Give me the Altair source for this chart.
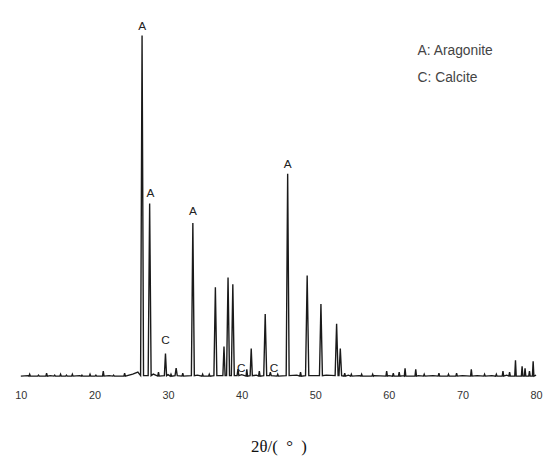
import altair as alt
import pandas as pd

# Main diffraction peaks: 2theta position, intensity (plot units), half width at base
peak_pos = [26.47, 27.5, 29.65, 31.1, 33.37, 36.43, 37.6, 38.15, 38.8, 39.5, 41.3, 43.2, 43.9,
            46.25, 48.9, 50.77, 52.9, 53.4]
peak_h = [346, 176, 24, 9, 156, 91, 31, 101, 94, 8, 29, 64, 5,
          206, 103, 74, 54, 29]
peak_hw = [0.2, 0.2, 0.15, 0.15, 0.2, 0.2, 0.15, 0.2, 0.2, 0.12, 0.15, 0.2, 0.12,
           0.2, 0.22, 0.2, 0.2, 0.18]

# Small bumps of the background
bump_pos = [11.2, 12.4, 13.5, 14.6, 15.4, 16.2, 17.0, 18.3, 19.4, 20.2, 21.2, 22.6, 24.1, 28.7,
            30.4, 32.0, 34.7, 35.6, 40.7, 42.4, 44.9, 48.0, 54.0, 54.9, 56.3, 57.8,
            59.7, 60.6, 61.4, 62.2, 63.65, 64.8, 66.8, 68.1, 69.2, 71.2, 73.0, 74.6, 75.5,
            76.4, 77.2, 78.1, 78.5, 79.1, 79.6]
bump_h = [3, 2, 4, 2, 3, 2, 3, 2, 3, 2, 6, 2, 4, 5,
          3, 4, 3, 3, 8, 6, 3, 5, 4, 3, 3, 3,
          6, 4, 5, 9, 8, 3, 4, 3, 4, 8, 3, 3, 6,
          5, 17, 11, 9, 6, 16]

# Background level
bg_pos = [10, 11, 12, 14, 16, 18, 20, 22, 24, 25.2, 25.9, 28, 30, 32, 34, 35.5, 40, 42, 45, 47.5,
          51.5, 54.5, 56, 58, 60, 62, 64, 66, 68, 70, 72, 74, 76, 78, 80]
bg_h = [1, 1.5, 1, 1.5, 1, 1.5, 1, 1.5, 2, 3, 5, 3, 2.5, 2, 2, 2, 2.5, 2, 2, 2,
        2, 2, 1.5, 1.5, 1.5, 1.5, 1.5, 1.5, 1.5, 1.5, 1.5, 1.5, 2, 2, 2]

# Peak labels
lab_text = ["A", "A", "C", "A", "C", "C", "A"]
lab_x = [26.47, 27.6, 29.65, 33.37, 39.95, 44.4, 46.25]
lab_y = [356, 186, 38, 168, 9, 9, 216]

# Legend
leg_text = ["A: Aragonite", "C: Calcite"]
leg_x = [63.9, 63.9]
leg_y = [330, 303]

rows = []
for p, h, w in zip(peak_pos, peak_h, peak_hw):
    rows += [(p - w, 1.5), (p, h), (p + w, 1.5)]
for p, h in zip(bump_pos, bump_h):
    rows += [(p - 0.1, 1.0), (p, h), (p + 0.1, 1.0)]
windows = [(p - w, p + w) for p, w in zip(peak_pos, peak_hw)] + [(p - 0.1, p + 0.1) for p in bump_pos]
for p, h in zip(bg_pos, bg_h):
    if not any(a <= p <= b for a, b in windows):
        rows.append((p, h))
rows.sort()
trace = pd.DataFrame(rows, columns=["x", "y"])
trace["o"] = range(len(trace))

xscale = alt.Scale(domain=[10, 80], nice=False, zero=False)
yscale = alt.Scale(domain=[0, 360], nice=False)

line = alt.Chart(trace).mark_line(color="#1a1a1a", strokeWidth=1.4).encode(
    x=alt.X("x:Q", scale=xscale,
            axis=alt.Axis(values=[10, 20, 30, 40, 50, 60, 70, 80], title="2θ/(\u2002°\u2002)",
                          grid=False, domain=False, ticks=False, labelPadding=13, labelFlush=False,
                          labelFont="Liberation Sans", labelFontSize=11, labelColor="#333",
                          titleFont="Liberation Serif", titleFontSize=17, titleFontWeight="normal",
                          titleColor="#111", titlePadding=38)),
    y=alt.Y("y:Q", scale=yscale, axis=None),
    order="o:Q",
)

labs = alt.Chart(pd.DataFrame({"t": lab_text, "x": lab_x, "y": lab_y})).mark_text(
    font="Liberation Sans", fontSize=12, color="#222", baseline="middle", align="center"
).encode(x=alt.X("x:Q", scale=xscale), y=alt.Y("y:Q", scale=yscale), text="t:N")

leg = alt.Chart(pd.DataFrame({"t": leg_text, "x": leg_x, "y": leg_y})).mark_text(
    font="Liberation Sans", fontSize=14, color="#444", baseline="middle", align="left"
).encode(x=alt.X("x:Q", scale=xscale), y=alt.Y("y:Q", scale=yscale), text="t:N")

chart = alt.layer(line, labs, leg).properties(
    width=522, height=360,
    padding={"left": 6, "top": 8, "right": 0, "bottom": 0},
).configure_view(stroke=None)

chart.save("out.html", embed_options={"renderer": "svg", "actions": False})
